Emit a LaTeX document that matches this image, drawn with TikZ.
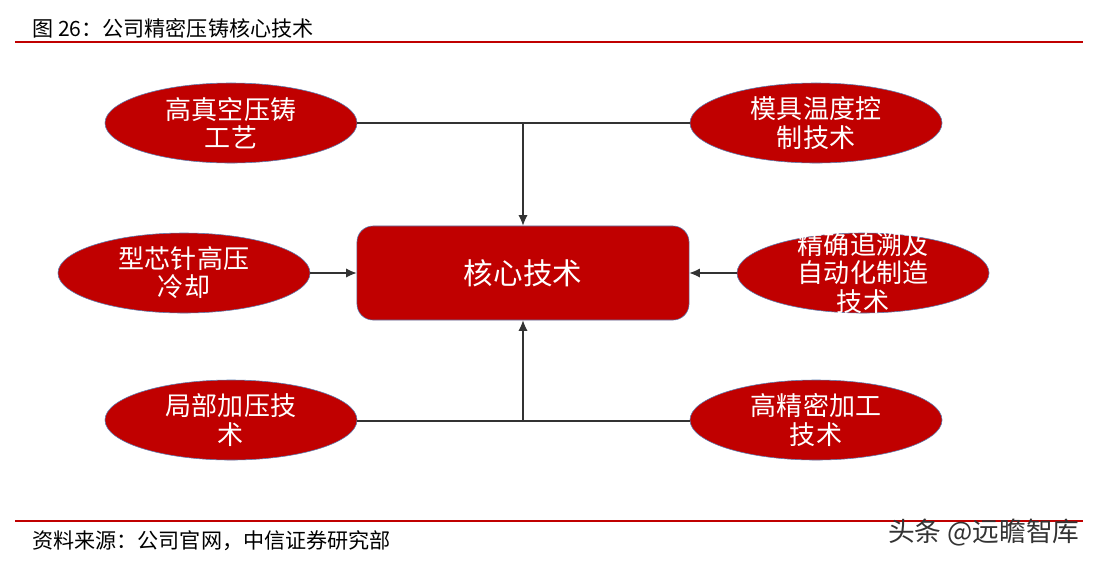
\documentclass[tikz,border=0pt]{standalone}
\usepackage{fontspec}
\setmainfont{Noto Sans CJK SC}
\usetikzlibrary{shapes.geometric, arrows.meta}
\definecolor{zxred}{HTML}{C00000}
\definecolor{zxedge}{HTML}{5B7DB1}

\tikzset{
  tech/.style={ellipse, draw=zxedge, fill=zxred, minimum width=6.3cm, minimum height=2cm, inner sep=0pt},
  techtext/.style={text=white, align=center, inner sep=0pt, font=\fontsize{18.5}{20}\selectfont},
  core/.style={rectangle, rounded corners=0.4cm, draw=zxedge, fill=zxred, text=white, minimum width=8.3cm, minimum height=2.35cm, font=\fontsize{21}{24}\selectfont},
  link/.style={draw=black!80, line width=0.8pt},
  arr/.style={link, -{Latex[length=7.5pt,width=6.5pt]}},
  rule/.style={draw=zxred, line width=1.4pt},
}

\begin{document}
\begin{tikzpicture}[x=0.025cm, y=-0.025cm]
\useasboundingbox (0,0) rectangle (1096,562);

% title and rules
\node[anchor=west, inner sep=0pt, font=\fontsize{15}{18}\selectfont] (title) at (32,28) {图 26：公司精密压铸核心技术};
\draw[rule] (15,42) -- (1083,42);
\draw[rule] (15,521) -- (1083,521);
\node[anchor=west, inner sep=0pt, font=\fontsize{15}{18}\selectfont] (src) at (32,541) {资料来源：公司官网，中信证券研究部};
\node[anchor=east, inner sep=0pt, text=black!80, font=\fontsize{19}{22}\selectfont] (mark) at (1080,533) {头条 @远瞻智库};

% core
\node[core] (core) at (523,273) {核心技术};

% ellipses
\node[tech] (gk) at (231,123) {};
\node[techtext] (gkt) at (gk) {高真空压铸\\工艺};
\node[tech] (mj) at (816,123) {};
\node[techtext] (mjt) at (mj) {模具温度控\\制技术};
\node[tech] (xx) at (184,273) {};
\node[techtext] (xxt) at (xx) {型芯针高压\\冷却};
\node[tech] (zq) at (863,273) {};
\node[techtext] (zqt) at (zq) {精确追溯及\\自动化制造\\技术};
\node[tech] (jb) at (231,420) {};
\node[techtext] (jbt) at (jb) {局部加压技\\术};
\node[tech] (gj) at (816,420) {};
\node[techtext] (gjt) at (gj) {高精密加工\\技术};

% connectors
\coordinate (up) at (523,123);
\coordinate (dn) at (523,421);
\draw[link] (gk.east) -- (up) -- (mj.west);
\draw[arr] (up) -- (core.north);
\draw[link] (jb.east |- dn) -- (dn) -- (gj.west |- dn);
\draw[arr] (dn) -- (core.south);
\draw[arr] (xx.east) -- (core.west);
\draw[arr] (zq.west) -- (core.east);
\end{tikzpicture}
\end{document}
